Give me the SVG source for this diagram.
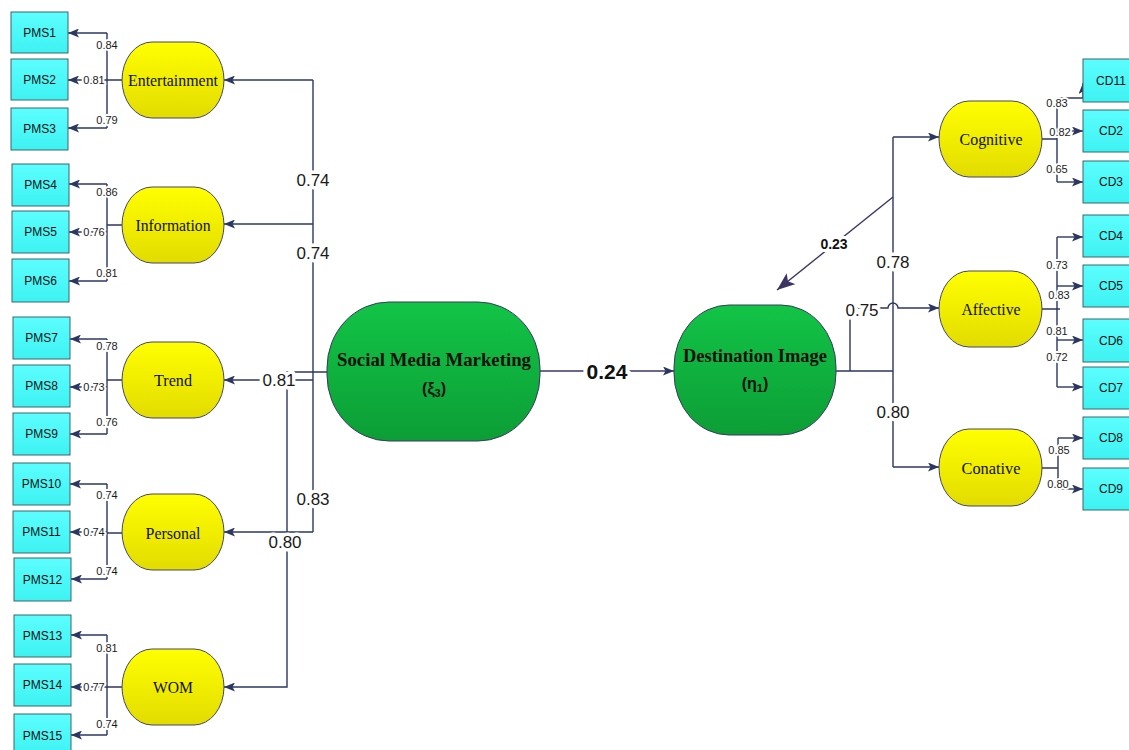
<svg xmlns="http://www.w3.org/2000/svg" width="1129" height="750" viewBox="0 0 1129 750">
<defs>
<linearGradient id="gY" x1="0" y1="0" x2="0" y2="1"><stop offset="0" stop-color="#ffff00"/><stop offset="1" stop-color="#e2dc00"/></linearGradient>
<linearGradient id="gG" x1="0" y1="0" x2="0" y2="1"><stop offset="0" stop-color="#12c446"/><stop offset="1" stop-color="#0c9e36"/></linearGradient>
<linearGradient id="gC" x1="0" y1="0" x2="0" y2="1"><stop offset="0" stop-color="#5cfefe"/><stop offset="1" stop-color="#3ef2f2"/></linearGradient>
<marker id="ah" markerWidth="11" markerHeight="9" refX="11" refY="4.5" orient="auto" markerUnits="userSpaceOnUse"><path d="M0,0 L11,4.5 L0,9 L2.5,4.5 z" fill="#2b3763"/></marker>
<marker id="ahb" markerWidth="18" markerHeight="14" refX="18" refY="7" orient="auto" markerUnits="userSpaceOnUse"><path d="M0,0 L18,7 L0,14 L4,7 z" fill="#3b3566"/></marker>
<style>
.ind rect{fill:url(#gC);stroke:#3f6468;stroke-width:1}
.ind text{font-family:"Liberation Sans",Arial,sans-serif;font-size:12px;fill:#111;text-anchor:middle}
.lat rect{fill:url(#gY);stroke:#45456a;stroke-width:1}
.lat text{font-family:"Liberation Serif","Times New Roman",serif;font-size:17px;fill:#111;text-anchor:middle}
.big rect{fill:url(#gG);stroke:#3a3a5e;stroke-width:1}
.big text{font-family:"Liberation Serif","Times New Roman",serif;font-size:19px;font-weight:bold;fill:#111;text-anchor:middle}
.big text.sym{font-family:"Liberation Sans",Arial,sans-serif;font-size:16px}
.c path{fill:none;stroke:#2b3763;stroke-width:1.4}
.c path.a{marker-end:url(#ah)}
.l{font-family:"Liberation Sans",Arial,sans-serif;fill:#1a1a1a;text-anchor:middle;paint-order:stroke;stroke:#fff;stroke-width:4px;stroke-linejoin:round}
.s{font-size:11px}
.m{font-size:17px;stroke-width:7px}
.b{font-weight:bold;fill:#111}
</style>
</defs>
<rect width="1129" height="750" fill="#fff"/>

<g id="connectors" class="c">
<path d="M122,80 H107 M107,33 V128"/>
<path class="a" d="M107,33 H68"/><path class="a" d="M107,80 H68"/><path class="a" d="M107,128 H68"/>
<path d="M122,225 H107 M107,184 V281"/>
<path class="a" d="M107,184 H69"/><path class="a" d="M107,232 H69"/><path class="a" d="M107,281 H69"/>
<path d="M122,380 H107 M107,339 V434"/>
<path class="a" d="M107,339 H70"/><path class="a" d="M107,387 H70"/><path class="a" d="M107,434 H70"/>
<path d="M122,533 H107 M107,484 V579"/>
<path class="a" d="M107,484 H70"/><path class="a" d="M107,532 H70"/><path class="a" d="M107,579 H71"/>
<path d="M122,687 H107 M107,635 V735"/>
<path class="a" d="M107,635 H71"/><path class="a" d="M107,687 H71"/><path class="a" d="M107,735 H71"/>
<path d="M313,80 V532"/>
<path class="a" d="M313,80 H224"/>
<path class="a" d="M313,224 H224"/>
<path class="a" d="M313,380 H224"/>
<path class="a" d="M313,532 H224"/>
<path class="a" d="M327,372 H287 V687 H224"/>
<path d="M540,371 H674" style="stroke:#3b3566;marker-end:url(#ah)"/>
<path d="M836,371 H893 M893,137 V467"/>
<path class="a" d="M893,137 H939"/>
<path class="a" d="M893,467 H939"/>
<path class="a" d="M850,371 V308 H888 A5,5 0 0 1 898,308 H939"/>
<path d="M893,197 L777,290" style="stroke:#3b3566;marker-end:url(#ahb)"/>
<path d="M1042,139 H1057 M1057,98 V182"/>
<path class="a" d="M1057,98 H1083 V83"/><path class="a" d="M1057,131 H1083"/><path class="a" d="M1057,182 H1083"/>
<path d="M1042,309 H1060 M1057,237 V387"/>
<path class="a" d="M1057,237 H1083"/><path class="a" d="M1057,286 H1083"/><path class="a" d="M1057,340 H1083"/><path class="a" d="M1057,387 H1083"/>
<path d="M1042,468 H1058 M1058,438 V489"/>
<path class="a" d="M1058,438 H1083"/><path class="a" d="M1058,489 H1083"/>
</g>

<g id="labels">
<text class="l s" x="107" y="49">0.84</text><text class="l s" x="94" y="84">0.81</text><text class="l s" x="107" y="124">0.79</text>
<text class="l s" x="107" y="196">0.86</text><text class="l s" x="94" y="236">0.76</text><text class="l s" x="107" y="277">0.81</text>
<text class="l s" x="107" y="350">0.78</text><text class="l s" x="94" y="391">0.73</text><text class="l s" x="107" y="426">0.76</text>
<text class="l s" x="107" y="499">0.74</text><text class="l s" x="94" y="536">0.74</text><text class="l s" x="107" y="575">0.74</text>
<text class="l s" x="107" y="652">0.81</text><text class="l s" x="94" y="691">0.77</text><text class="l s" x="107" y="728">0.74</text>
<text class="l m" x="313" y="186">0.74</text>
<text class="l m" x="313" y="259">0.74</text>
<text class="l m" x="279" y="386">0.81</text>
<text class="l m" x="313" y="505">0.83</text>
<text class="l m" x="285" y="548">0.80</text>
<text class="l b" x="607" y="379" style="font-size:21px;stroke-width:8px">0.24</text>
<text class="l b" x="834" y="249" style="font-size:14px;stroke-width:6px">0.23</text>
<text class="l m" x="893" y="268">0.78</text>
<text class="l m" x="862" y="316">0.75</text>
<text class="l m" x="893" y="418">0.80</text>
<text class="l s" x="1057" y="107">0.83</text><text class="l s" x="1060" y="136">0.82</text><text class="l s" x="1057" y="173">0.65</text>
<text class="l s" x="1057" y="269">0.73</text><text class="l s" x="1059" y="299">0.83</text><text class="l s" x="1057" y="335">0.81</text><text class="l s" x="1057" y="361">0.72</text>
<text class="l s" x="1059" y="454">0.85</text><text class="l s" x="1058" y="488">0.80</text>
</g>

<g id="PMS1" class="ind"><rect x="11" y="12" width="57" height="41"/><text x="39.5" y="37">PMS1</text></g>
<g id="PMS2" class="ind"><rect x="11" y="59" width="57" height="41"/><text x="39.5" y="84">PMS2</text></g>
<g id="PMS3" class="ind"><rect x="11" y="108" width="57" height="42"/><text x="39.5" y="133">PMS3</text></g>
<g id="PMS4" class="ind"><rect x="12" y="164" width="57" height="42"/><text x="40.5" y="189">PMS4</text></g>
<g id="PMS5" class="ind"><rect x="12" y="211" width="57" height="42"/><text x="40.5" y="236">PMS5</text></g>
<g id="PMS6" class="ind"><rect x="12" y="259" width="57" height="43"/><text x="40.5" y="285">PMS6</text></g>
<g id="PMS7" class="ind"><rect x="13" y="317" width="57" height="42"/><text x="41.5" y="342">PMS7</text></g>
<g id="PMS8" class="ind"><rect x="13" y="365" width="57" height="42"/><text x="41.5" y="390">PMS8</text></g>
<g id="PMS9" class="ind"><rect x="13" y="413" width="57" height="42"/><text x="41.5" y="438">PMS9</text></g>
<g id="PMS10" class="ind"><rect x="13" y="463" width="57" height="42"/><text x="41.5" y="488">PMS10</text></g>
<g id="PMS11" class="ind"><rect x="13" y="511" width="57" height="42"/><text x="41.5" y="536">PMS11</text></g>
<g id="PMS12" class="ind"><rect x="14" y="558" width="57" height="43"/><text x="42.5" y="584">PMS12</text></g>
<g id="PMS13" class="ind"><rect x="14" y="615" width="57" height="42"/><text x="42.5" y="640">PMS13</text></g>
<g id="PMS14" class="ind"><rect x="14" y="664" width="57" height="42"/><text x="42.5" y="689">PMS14</text></g>
<g id="PMS15" class="ind"><rect x="14" y="714" width="57" height="42"/><text x="42.5" y="740">PMS15</text></g>

<g id="CD11" class="ind"><rect x="1083" y="59" width="57" height="43"/><text x="1111" y="85">CD11</text></g>
<g id="CD2" class="ind"><rect x="1083" y="110" width="57" height="42"/><text x="1111" y="135">CD2</text></g>
<g id="CD3" class="ind"><rect x="1083" y="161" width="57" height="42"/><text x="1111" y="186">CD3</text></g>
<g id="CD4" class="ind"><rect x="1083" y="215" width="57" height="42"/><text x="1111" y="240">CD4</text></g>
<g id="CD5" class="ind"><rect x="1083" y="265" width="57" height="42"/><text x="1111" y="290">CD5</text></g>
<g id="CD6" class="ind"><rect x="1083" y="319" width="57" height="43"/><text x="1111" y="345">CD6</text></g>
<g id="CD7" class="ind"><rect x="1083" y="367" width="57" height="42"/><text x="1111" y="392">CD7</text></g>
<g id="CD8" class="ind"><rect x="1083" y="417" width="57" height="42"/><text x="1111" y="442">CD8</text></g>
<g id="CD9" class="ind"><rect x="1083" y="468" width="57" height="42"/><text x="1111" y="493">CD9</text></g>

<g id="Entertainment" class="lat"><rect x="122" y="42" width="102" height="76" rx="30" ry="38"/><text x="173" y="86" textLength="90" lengthAdjust="spacingAndGlyphs">Entertainment</text></g>
<g id="Information" class="lat"><rect x="122" y="187" width="102" height="76" rx="30" ry="38"/><text x="173" y="231" textLength="75" lengthAdjust="spacingAndGlyphs">Information</text></g>
<g id="Trend" class="lat"><rect x="122" y="342" width="102" height="76" rx="30" ry="38"/><text x="173" y="386" textLength="38" lengthAdjust="spacingAndGlyphs">Trend</text></g>
<g id="Personal" class="lat"><rect x="122" y="494" width="102" height="76" rx="30" ry="38"/><text x="173" y="539" textLength="55" lengthAdjust="spacingAndGlyphs">Personal</text></g>
<g id="WOM" class="lat"><rect x="122" y="649" width="102" height="76" rx="30" ry="38"/><text x="173" y="693" textLength="40" lengthAdjust="spacingAndGlyphs">WOM</text></g>
<g id="Cognitive" class="lat"><rect x="939" y="101" width="103" height="76" rx="30" ry="38"/><text x="991" y="145" textLength="63" lengthAdjust="spacingAndGlyphs">Cognitive</text></g>
<g id="Affective" class="lat"><rect x="939" y="271" width="103" height="76" rx="30" ry="38"/><text x="991" y="315" textLength="59" lengthAdjust="spacingAndGlyphs">Affective</text></g>
<g id="Conative" class="lat"><rect x="939" y="429" width="103" height="77" rx="30" ry="38"/><text x="991" y="474" textLength="59" lengthAdjust="spacingAndGlyphs">Conative</text></g>

<g id="SMM" class="big"><rect x="327" y="302" width="213" height="139" rx="62" ry="66"/>
<text x="434" y="366" textLength="194" lengthAdjust="spacingAndGlyphs">Social Media Marketing</text>
<text class="sym" x="434" y="394">(ξ<tspan font-size="11" dy="3">3</tspan><tspan dy="-3">)</tspan></text></g>
<g id="DI" class="big"><rect x="674" y="305" width="162" height="130" rx="55" ry="62"/>
<text x="755" y="362" textLength="144" lengthAdjust="spacingAndGlyphs">Destination Image</text>
<text class="sym" x="755" y="389">(η<tspan font-size="11" dy="3">1</tspan><tspan dy="-3">)</tspan></text></g>
</svg>
